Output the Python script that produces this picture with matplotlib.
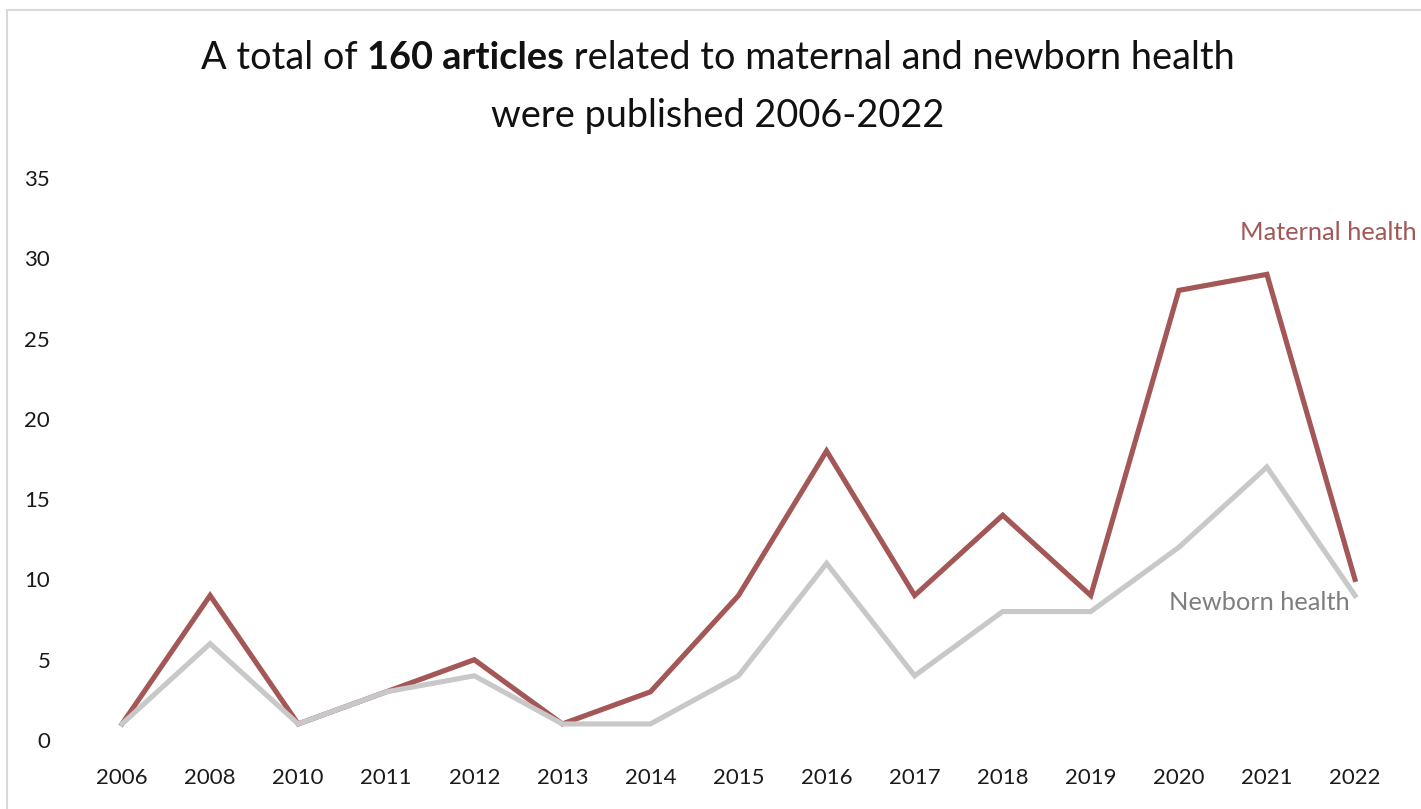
import numpy as np
import matplotlib.pyplot as plt
from matplotlib.patches import Rectangle

years = ['2006', '2008', '2010', '2011', '2012', '2013', '2014', '2015',
         '2016', '2017', '2018', '2019', '2020', '2021', '2022']
maternal = [1, 9, 1, 3, 5, 1, 3, 9, 18, 9, 14, 9, 28, 29, 10]
newborn = [1, 6, 1, 3, 4, 1, 1, 4, 11, 4, 8, 8, 12, 17, 9]

red = '#A35757'
grey = '#C8C8C8'
W, H = 1421, 809

plt.rcParams['font.family'] = ['Lato', 'DejaVu Sans']

fig = plt.figure(figsize=(W / 100, H / 100), dpi=100)
ax = fig.add_axes([78 / W, (H - 740) / H, (1399 - 78) / W, (740 - 178) / H])

x = np.arange(len(years))
ax.plot(x, maternal, color=red, lw=3.7, solid_joinstyle='miter', zorder=2)
ax.plot(x, newborn, color=grey, lw=3.7, solid_joinstyle='miter', zorder=3)

ax.set_xlim(-0.5, len(years) - 0.5)
ax.set_ylim(0, 35)
ax.set_xticks(x)
ax.set_xticklabels(years)
ax.set_yticks(range(0, 36, 5))
ax.tick_params(length=0, labelsize=16, colors='#1a1a1a')
ax.tick_params(axis='x', pad=20)
ax.tick_params(axis='y', pad=20)
for s in ax.spines.values():
    s.set_visible(False)

# series labels
fig.text(1417 / W, 1 - 233 / H, 'Maternal health', color=red, fontsize=18.3,
         ha='right', va='center')
fig.text(1169 / W, 1 - 603 / H, 'Newborn health', color='#7f7f7f', fontsize=18.3,
         ha='left', va='center')

# title with bold part
parts = [('A total of ', 'normal'), ('160 articles', 'bold'),
         (' related to maternal and newborn health', 'normal')]
fig.canvas.draw()
r = fig.canvas.get_renderer()
texts = []
for s, w in parts:
    t = fig.text(0, 1 - 58 / H, s, fontsize=27.3, fontweight=w, ha='left',
                 va='center', color='#111111')
    texts.append(t)
widths = [t.get_window_extent(r).width for t in texts]
total = sum(widths)
x0 = 718 - total / 2
for t, wd in zip(texts, widths):
    t.set_x(x0 / W)
    x0 += wd
fig.text(718 / W, 1 - 116 / H, 'were published 2006-2022', fontsize=27.3,
         ha='center', va='center', color='#111111')

# light border
fig.patches.append(Rectangle((7 / W, -0.1), 1.2, 1.1 - 10 / H,
                             transform=fig.transFigure, fill=False,
                             edgecolor='#D9D9D9', lw=1.5))

fig.savefig('out.png', dpi=100)
